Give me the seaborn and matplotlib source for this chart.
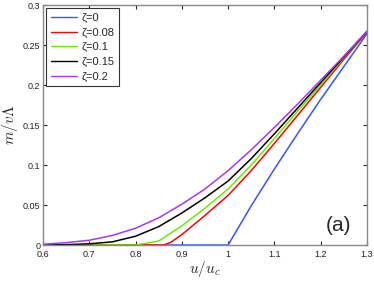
import matplotlib
matplotlib.use("Agg")
import matplotlib.pyplot as plt
import seaborn as sns
import pandas as pd

# values
u_grid = [0.6, 0.65, 0.7, 0.75, 0.8, 0.85, 0.9, 0.95, 1.0, 1.05, 1.1, 1.15, 1.2, 1.25, 1.3]
m_z000 = [0, 0, 0, 0, 0, 0, 0, 0, 0, 0.049, 0.095, 0.139, 0.182, 0.223, 0.264]
u_red = [0.6, 0.7, 0.8, 0.86, 0.875, 0.9, 0.925, 0.95, 1.0, 1.05, 1.1, 1.15, 1.2, 1.25, 1.3]
m_z008 = [0, 0, 0, 0, 0.003, 0.013, 0.025, 0.037, 0.062, 0.093, 0.127, 0.162, 0.197, 0.232, 0.266]
m_z010 = [0, 0, 0, 0, 0, 0.005, 0.024, 0.046, 0.070, 0.100, 0.133, 0.167, 0.200, 0.234, 0.267]
m_z015 = [0, 0.0005, 0.0015, 0.004, 0.011, 0.023, 0.040, 0.059, 0.080, 0.108, 0.139, 0.171, 0.203, 0.235, 0.267]
m_z020 = [0.001, 0.003, 0.006, 0.012, 0.021, 0.034, 0.051, 0.070, 0.093, 0.119, 0.147, 0.176, 0.206, 0.236, 0.267]

labels = ["ζ=0", "ζ=0.08", "ζ=0.1", "ζ=0.15", "ζ=0.2"]
colors = ["#3355ff", "#ff0000", "#66ee00", "#000000", "#aa33ff"]

xticks = [0.6, 0.7, 0.8, 0.9, 1.0, 1.1, 1.2, 1.3]
xticklabels = ["0.6", "0.7", "0.8", "0.9", "1", "1.1", "1.2", "1.3"]
yticks = [0, 0.05, 0.1, 0.15, 0.2, 0.25, 0.3]
yticklabels = ["0", "0.05", "0.1", "0.15", "0.2", "0.25", "0.3"]

# long format table
frames = []
for lab, xs, ys in zip(labels,
                       [u_grid, u_red, u_grid, u_grid, u_grid],
                       [m_z000, m_z008, m_z010, m_z015, m_z020]):
    frames.append(pd.DataFrame({"u": xs, "m": ys, "zeta": lab}))
df = pd.concat(frames, ignore_index=True)

sns.set_style("ticks")
plt.rcParams["font.family"] = ["Liberation Sans", "DejaVu Sans"]
plt.rcParams["mathtext.fontset"] = "cm"

fig = plt.figure(figsize=(3.74, 2.81), dpi=100)
ax = fig.add_axes([0.115, 0.128, 0.866, 0.854])

sns.lineplot(data=df, x="u", y="m", hue="zeta", hue_order=labels,
             palette=colors, linewidth=1.1, ax=ax, estimator=None, sort=False)

ax.set_xlim(0.6, 1.3)
ax.set_ylim(0, 0.3)
ax.set_xticks(xticks)
ax.set_xticklabels(xticklabels)
ax.set_yticks(yticks)
ax.set_yticklabels(yticklabels)
ax.tick_params(direction="in", length=3, width=0.8, labelsize=6.5, colors="#222222",
               top=True, right=True)
ax.tick_params(axis="x", pad=3.5)
ax.tick_params(axis="y", pad=2)
for sp in ax.spines.values():
    sp.set_visible(True)
    sp.set_color("#888888")
    sp.set_linewidth(1.0)

ax.set_xlabel(r"$u/u_c$", fontsize=11, labelpad=0)
ax.set_ylabel(r"$m/v\Lambda$", fontsize=11, labelpad=2)

ax.text(0.952, 0.04, "(a)", transform=ax.transAxes, fontsize=15,
        ha="right", va="bottom")

leg = ax.legend(loc="upper left", fontsize=8, frameon=True, fancybox=False,
                borderaxespad=0.3, handlelength=2.4, handletextpad=0.36,
                labelspacing=0.42, borderpad=0.4)
leg.get_frame().set_edgecolor("#333333")
leg.get_frame().set_linewidth(0.8)
leg.get_frame().set_alpha(1)
for line in leg.get_lines():
    line.set_linewidth(1.0)

fig.savefig("out.png", dpi=100)
